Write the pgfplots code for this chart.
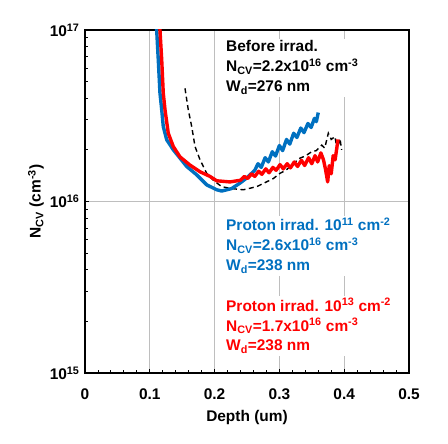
\documentclass[border=0pt]{standalone}
\usepackage{pgfplots}
\pgfplotsset{compat=1.18}
\usepackage{fontspec}
\setmainfont{Liberation Sans}
\definecolor{myblue}{RGB}{0,112,192}
\definecolor{myred}{RGB}{255,0,0}
\definecolor{mygrid}{RGB}{190,190,190}
\begin{document}
\begin{tikzpicture}[x=1bp,y=1bp]
\begin{axis}[
  scale only axis,
  width=324bp, height=343bp,
  xmin=0, xmax=0.5,
  ymin=1e15, ymax=1e17,
  ymode=log,
  xtick={0,0.1,0.2,0.3,0.4,0.5},
  xticklabels={0,0.1,0.2,0.3,0.4,0.5},
  minor x tick num=4,
  ytick={1e15,1e16,1e17},
  yticklabels={10\textsuperscript{15},10\textsuperscript{16},10\textsuperscript{17}},
  xtick pos=bottom, ytick pos=left,
  tick align=inside,
  major tick length=3.5bp, minor tick length=3bp,
  tick style={black, line width=0.9bp},
  grid=major,
  major grid style={mygrid, line width=1.2bp},
  axis line style={black, line width=1.5bp},
  ticklabel style={font=\fontsize{15.5}{18}\selectfont\bfseries},
  xticklabel style={yshift=-12bp},
  yticklabel style={xshift=-2bp},
  label style={font=\fontsize{15.5}{18}\selectfont\bfseries},
  xlabel={Depth (um)},
  ylabel={N\textsubscript{CV} (cm\textsuperscript{-3})},
  xlabel style={yshift=-4bp},
  ylabel style={yshift=-1bp},
  clip=true,
]
% black dashed: before irradiation
\addplot[black, line width=1.4bp, dash pattern=on 5bp off 3.5bp] coordinates {
(0.1543,4.57e16) (0.1594,3.42e16) (0.1647,2.73e16) (0.1698,2.09e16) (0.1775,1.75e16)
(0.1878,1.46e16) (0.198,1.33e16) (0.211,1.22e16) (0.2250,1.19e16)
(0.2443,1.17e16) (0.265,1.22e16) (0.2906,1.36e16) (0.301,1.46e16)
(0.310,1.52e16) (0.318,1.62e16) (0.3318,1.79e16) (0.340,1.84e16) (0.3498,1.95e16)
(0.357,1.98e16) (0.3653,2.13e16) (0.370,2.05e16) (0.3755,2.50e16) (0.380,2.30e16)
(0.3858,2.39e16) (0.389,2.0e16) (0.3935,2.33e16) (0.396,2.0e16)
};
% blue: proton 1e11
\addplot[myblue, line width=3.4bp, line join=round] coordinates {
(0.1100,1.2e17) (0.1106,1.0e17) (0.1131,6.68e16) (0.1157,4.28e16) (0.1184,3.42e16)
(0.1208,2.73e16) (0.1261,2.29e16) (0.1363,2.00e16) (0.1466,1.79e16) (0.1569,1.60e16)
(0.1724,1.43e16) (0.1878,1.25e16) (0.2032,1.17e16) (0.2110,1.15e16) (0.2264,1.19e16)
(0.2392,1.28e16) (0.2495,1.37e16)
(0.262,1.52e16) (0.267,1.66e16) (0.272,1.58e16) (0.278,1.80e16) (0.283,1.70e16)
(0.289,1.95e16) (0.294,1.84e16) (0.300,2.12e16) (0.305,1.98e16) (0.311,2.30e16)
(0.316,2.16e16) (0.322,2.50e16) (0.327,2.36e16) (0.333,2.68e16) (0.338,2.52e16)
(0.344,2.85e16) (0.349,2.70e16) (0.354,3.05e16) (0.357,2.92e16) (0.360,3.30e16)
};
% red: proton 1e13
\addplot[myred, line width=3.4bp, line join=round] coordinates {
(0.1150,1.2e17) (0.1157,1.0e17) (0.1184,6.68e16) (0.1208,4.28e16) (0.1235,3.42e16)
(0.1285,2.50e16) (0.1363,2.09e16) (0.1466,1.82e16) (0.1620,1.63e16) (0.1775,1.49e16)
(0.1929,1.40e16) (0.2032,1.32e16) (0.2238,1.30e16)
(0.240,1.33e16) (0.246,1.40e16) (0.251,1.36e16) (0.257,1.45e16) (0.262,1.40e16)
(0.268,1.50e16) (0.273,1.44e16) (0.279,1.55e16) (0.284,1.47e16) (0.290,1.58e16)
(0.295,1.52e16) (0.301,1.64e16) (0.306,1.55e16) (0.312,1.66e16) (0.317,1.57e16)
(0.323,1.70e16) (0.328,1.60e16) (0.334,1.74e16) (0.339,1.62e16) (0.345,1.80e16)
(0.350,1.66e16) (0.355,1.85e16) (0.359,1.70e16) (0.364,1.92e16) (0.368,1.75e16)
(0.371,1.55e16) (0.3745,1.30e16) (0.377,1.62e16) (0.380,1.45e16) (0.383,1.85e16)
(0.386,1.75e16) (0.3905,2.30e16)
};
\node[anchor=north west, fill=white, inner sep=2bp, align=left,
  font=\fontsize{15.5}{20}\selectfont\bfseries] at (rel axis cs:0.429,0.975)
  {Before irrad.\\N\textsubscript{CV}=2.2x10\textsuperscript{16} cm\textsuperscript{-3}\\W\textsubscript{d}=276 nm};
\node[anchor=north west, fill=white, inner sep=2bp, align=left, text=myblue,
  font=\fontsize{15.5}{20}\selectfont\bfseries] at (rel axis cs:0.429,0.458)
  {Proton irrad. 10\textsuperscript{11} cm\textsuperscript{-2}\\N\textsubscript{CV}=2.6x10\textsuperscript{16} cm\textsuperscript{-3}\\W\textsubscript{d}=238 nm};
\node[anchor=north west, fill=white, inner sep=2bp, align=left, text=myred,
  font=\fontsize{15.5}{20}\selectfont\bfseries] at (rel axis cs:0.429,0.224)
  {Proton irrad. 10\textsuperscript{13} cm\textsuperscript{-2}\\N\textsubscript{CV}=1.7x10\textsuperscript{16} cm\textsuperscript{-3}\\W\textsubscript{d}=238 nm};
\end{axis}
\pgfresetboundingbox
\path (current axis.south west) ++(-85bp,-71bp) rectangle ++(448bp,444bp);
\end{tikzpicture}
\end{document}
